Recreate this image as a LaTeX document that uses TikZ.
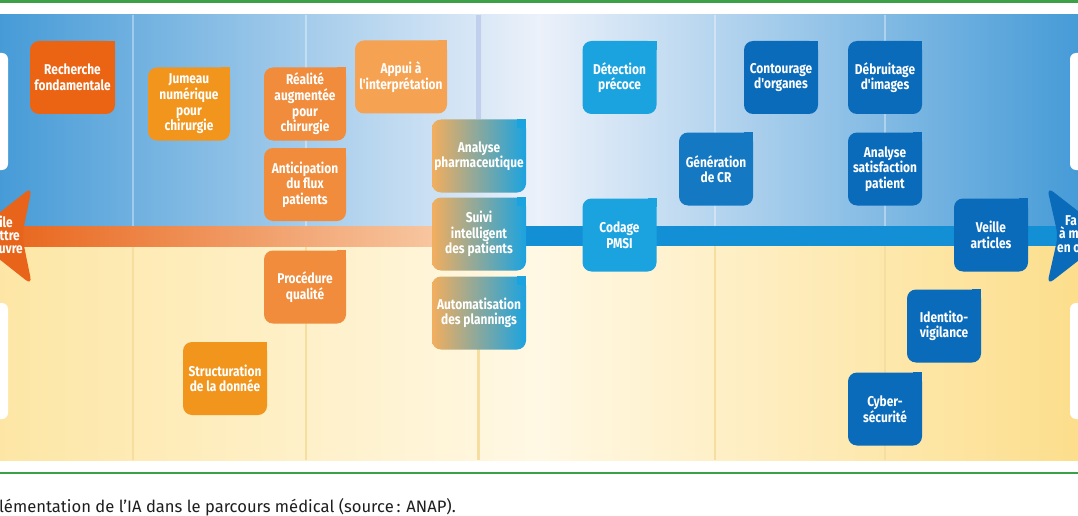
\documentclass[tikz,border=0pt]{standalone}
\usepackage{fontspec}
\setmainfont{Fira Sans}
\newfontfamily\boxfont[FakeStretch=0.84]{Fira Sans}
\usepackage{xcolor}

\definecolor{framegreen}{RGB}{60,160,70}
\definecolor{skyedge}{RGB}{70,155,215}
\definecolor{skymid}{RGB}{236,241,250}
\definecolor{sandedge}{RGB}{253,230,165}
\definecolor{sandmid}{RGB}{255,248,228}
\definecolor{sandright}{RGB}{252,222,140}
\definecolor{sandline}{RGB}{246,222,158}
\definecolor{axisline}{RGB}{192,208,236}
\definecolor{rustorange}{RGB}{234,100,20}
\definecolor{amber}{RGB}{242,149,28}
\definecolor{softorange}{RGB}{240,140,60}
\definecolor{paleorange}{RGB}{245,162,82}
\definecolor{mixorange}{RGB}{242,174,94}
\definecolor{lightblue}{RGB}{27,163,224}
\definecolor{midblue}{RGB}{20,120,195}
\definecolor{deepblue}{RGB}{10,107,186}
\definecolor{bandorange}{RGB}{232,100,26}
\definecolor{bandpeach}{RGB}{247,198,160}
\definecolor{bandblue}{RGB}{18,143,213}
\definecolor{captiongray}{RGB}{30,30,30}

\tikzset{
  usecase/.style={rounded corners=9, text=white, align=center, inner sep=0pt,
    minimum height=73, minimum width=74,
    font=\boxfont\bfseries\fontsize{14.2}{15.6}\selectfont},
  arrowtext/.style={text=white, inner sep=0pt,
    font=\boxfont\bfseries\fontsize{14.2}{13.2}\selectfont}
}

\begin{document}
\begin{tikzpicture}[x=1pt,y=-1pt]
\useasboundingbox (0,0) rectangle (1078,516);
\clip (0,0) rectangle (1078,516);
\fill[white] (0,0) rectangle (1078,516);

% background of the two halves
\shade[left color=skyedge, right color=skyedge, middle color=skymid] (0,15) rectangle (1078,226);
\shade[left color=sandedge, right color=sandright, middle color=sandmid] (0,246) rectangle (1078,460);

% columns
\foreach \x in {133,306,715,885} {
  \draw[white, opacity=0.35, line width=1.2] (\x,15) -- (\x,226);
  \draw[sandline, line width=1.2] (\x,246) -- (\x,460);
}
\draw[axisline, line width=5] (478,15) -- (478,119);
\draw[sandline, line width=3] (478,349) -- (478,460);

% white panels at the edges
\foreach \ya/\yb in {53/170, 303/419} {
  \fill[white, rounded corners=6] (-20,\ya) rectangle (8,\yb);
  \fill[white, rounded corners=6] (1070,\ya) rectangle (1100,\yb);
}

% axis
\shade[left color=bandorange, right color=bandpeach] (0,226) rectangle (434,246);
\fill[bandblue] (526,226) rectangle (1078,246);
\fill[bandorange, rounded corners=8] (-30,236) -- (32,187) -- (22,236) -- (32,285) -- cycle;
\fill[deepblue, rounded corners=8] (1110,236) -- (1047,187) -- (1058,236) -- (1047,285) -- cycle;
\node[arrowtext, anchor=east, align=right] (difficile) at (23,235) {ile\kern10pt\\ttre\kern3pt\\uvre};
\node[arrowtext, anchor=west, align=left] (facile) at (1057,234) {\kern8pt Fa\\\kern2pt à m\\en œ};

% orange use cases
\node[usecase, fill=rustorange, minimum width=85] (recherche) at (72.5,77.5) {Recherche\\fondamentale};
\node[usecase, fill=amber, minimum width=82] (jumeau) at (189,104) {Jumeau\\numérique\\pour\\chirurgie};
\node[usecase, fill=softorange, minimum width=82] (realite) at (305,104) {Réalité\\augmentée\\pour\\chirurgie};
\node[usecase, fill=softorange, minimum width=82] (anticipation) at (305,184.5) {Anticipation\\du flux\\patients};
\node[usecase, fill=paleorange, minimum width=92] (appui) at (401,77) {Appui à\\l'interprétation};
\node[usecase, fill=softorange, minimum width=82] (procedure) at (305,287) {Procédure\\qualité};
\node[usecase, fill=amber, minimum width=84] (structuration) at (225,378.5) {Structuration\\de la donnée};

% mixed use cases
\node[usecase, left color=mixorange, right color=lightblue, minimum width=94] (pharma) at (479,156) {Analyse\\pharmaceutique};
\node[usecase, left color=mixorange, right color=lightblue, minimum width=94] (suivi) at (479,234) {Suivi\\intelligent\\des patients};
\node[usecase, left color=mixorange, right color=lightblue, minimum width=94] (plannings) at (479,313) {Automatisation\\des plannings};

% blue use cases
\node[usecase, fill=lightblue] (detection) at (619.5,77.5) {Détection\\précoce};
\node[usecase, fill=lightblue] (codage) at (619.5,235) {Codage\\PMSI};
\node[usecase, fill=midblue] (generation) at (716,169) {Génération\\de CR};
\node[usecase, fill=deepblue] (contourage) at (781,77.5) {Contourage\\d'organes};
\node[usecase, fill=deepblue] (debruitage) at (885,77.5) {Débruitage\\d'images};
\node[usecase, fill=deepblue] (satisfaction) at (885,169) {Analyse\\satisfaction\\patient};
\node[usecase, fill=deepblue] (veille) at (991,235) {Veille\\articles};
\node[usecase, fill=deepblue] (identito) at (944,326) {Identito-\\vigilance};
\node[usecase, fill=deepblue] (cyber) at (885,409) {Cyber-\\sécurité};

% square top right corners
\foreach \n/\c in {recherche/rustorange, jumeau/amber, realite/softorange,
    anticipation/softorange, appui/paleorange, procedure/softorange,
    structuration/amber, pharma/lightblue, suivi/lightblue, plannings/lightblue,
    detection/lightblue, codage/lightblue, generation/midblue,
    contourage/deepblue, debruitage/deepblue, satisfaction/deepblue,
    veille/deepblue, identito/deepblue, cyber/deepblue}
  \fill[\c] (\n.north east) rectangle ++(-9,9);

% frame and caption
\draw[framegreen, line width=3] (0,1.5) -- (1078,1.5);
\draw[framegreen, line width=2.5] (0,473) -- (1078,473);
\node[anchor=west, inner sep=0pt, text=captiongray, font=\fontsize{16.6}{18}\selectfont] (caption) at (-1,507) {lémentation de l'IA dans le parcours médical (source\,: ANAP).};
\end{tikzpicture}
\end{document}
